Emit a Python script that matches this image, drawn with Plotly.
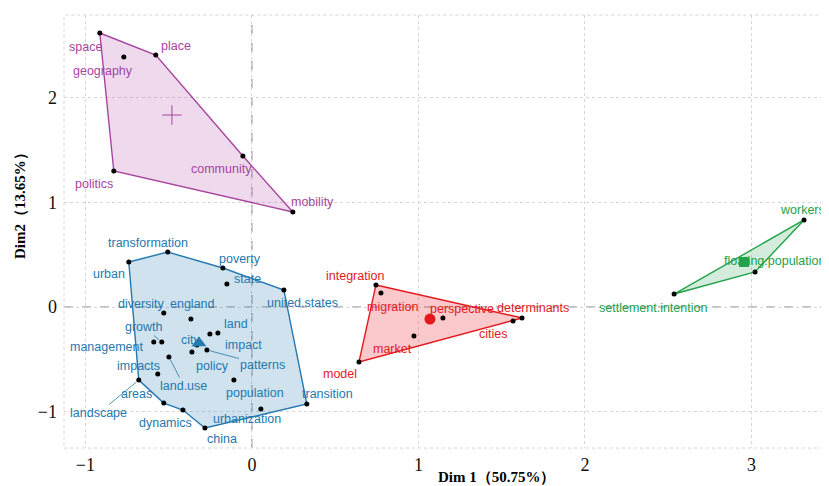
import plotly.graph_objects as go

# ---------------- data ----------------
purple_names = ["space", "geography", "place", "community", "politics", "mobility"]
purple_x = [-0.913, -0.769, -0.577, -0.054, -0.829, 0.246]
purple_y = [2.622, 2.392, 2.411, 1.445, 1.301, 0.909]
purple_hull = ["space", "place", "community", "mobility", "politics"]
purple_center = (-0.48, 1.837)

blue_names = ["urban", "transformation", "poverty", "state", "united.states", "diversity",
              "england", "land", "impact", "growth", "management", "city", "policy",
              "patterns", "land.use", "impacts", "landscape", "areas", "population",
              "dynamics", "china", "urbanization", "transition"]
blue_x = [-0.739, -0.505, -0.174, -0.150, 0.192, -0.529, -0.366, -0.204, -0.252, -0.541,
          -0.589, -0.330, -0.360, -0.270, -0.498, -0.565, -0.679, -0.529, -0.108, -0.414,
          -0.282, 0.054, 0.330]
blue_y = [0.431, 0.526, 0.373, 0.220, 0.163, -0.057, -0.115, -0.249, -0.258, -0.335,
          -0.335, -0.364, -0.431, -0.411, -0.478, -0.641, -0.699, -0.919, -0.699, -0.986,
          -1.158, -0.976, -0.928]
blue_hull = ["urban", "transformation", "poverty", "united.states", "transition", "china",
             "dynamics", "areas", "landscape"]
blue_center = (-0.318, -0.344)

red_names = ["integration", "migration", "perspective", "determinants", "cities", "market", "model"]
red_x = [0.745, 0.775, 1.147, 1.622, 1.568, 0.973, 0.643]
red_y = [0.211, 0.134, -0.105, -0.105, -0.134, -0.278, -0.526]
red_hull = ["integration", "determinants", "model"]
red_center = (1.069, -0.115)

green_names = ["settlement.intention", "floating.population", "workers"]
green_x = [2.535, 3.021, 3.315]
green_y = [0.124, 0.335, 0.833]
green_hull = ["settlement.intention", "workers", "floating.population"]
green_center = (2.955, 0.431)

x_ticks = [-1, 0, 1, 2, 3]
y_ticks = [-1, 0, 1, 2]
x_title = "Dim 1（50.75%）"
y_title = "Dim2（13.65%）"

# ---------------- label placement (pixel offsets, leader flag) ----------------
label_offsets = {
    "space": (-14, 14, False), "geography": (-21, 14, False), "place": (20, -9, False),
    "community": (-21, 13, False), "politics": (-20, 13, False), "mobility": (20, -10, False),
    "transformation": (-20, -9, False), "urban": (-20, 12, False), "poverty": (17, -9, False),
    "state": (21, -5, False), "united.states": (19, 13, False), "diversity": (-22, -9, False),
    "england": (2, -15, False), "land": (18, -9, False), "impact": (34, 11, False),
    "growth": (-18, -15, True), "management": (-47, 5, False), "city": (-6, -5, False),
    "policy": (21, 14, False), "patterns": (56, 15, True), "land.use": (15, 29, True),
    "impacts": (-19, -8, False), "landscape": (-40, 33, True), "areas": (-27, -9, False),
    "population": (21, 13, False), "dynamics": (-17, 13, False), "china": (17, 11, False),
    "urbanization": (-14, 10, False), "transition": (21, -10, False),
    "integration": (-21, -9, False), "migration": (12, 14, False), "perspective": (19, -9, False),
    "determinants": (11, -10, False), "cities": (-20, 13, False), "market": (-21, 13, False),
    "model": (-19, 12, False),
    "workers": (-2, -10, False), "floating.population": (20, -11, False),
    "settlement.intention": (-21, 14, False),
}

groups = [
    dict(names=purple_names, x=purple_x, y=purple_y, hull=purple_hull, center=purple_center,
         color="#A8449E", fill="rgba(168,68,158,0.20)", symbol="cross-thin-open", msize=14),
    dict(names=blue_names, x=blue_x, y=blue_y, hull=blue_hull, center=blue_center,
         color="#2479B0", fill="rgba(36,121,176,0.22)", symbol="triangle-up", msize=13),
    dict(names=red_names, x=red_x, y=red_y, hull=red_hull, center=red_center,
         color="#E4191E", fill="rgba(240,40,50,0.25)", symbol="circle", msize=11),
    dict(names=green_names, x=green_x, y=green_y, hull=green_hull, center=green_center,
         color="#22A24A", fill="rgba(34,162,74,0.20)", symbol="square", msize=10),
]

# page has an 8px body margin, so the figure is sized to end at the window edge
W, H = 821, 478
L, R, T, B = 56, 0, 7, 38
pw, ph = W - L - R, H - T - B

fig = go.Figure()
annotations = []

for g in groups:
    idx = {n: i for i, n in enumerate(g["names"])}
    hx = [g["x"][idx[n]] for n in g["hull"]] + [g["x"][idx[g["hull"][0]]]]
    hy = [g["y"][idx[n]] for n in g["hull"]] + [g["y"][idx[g["hull"][0]]]]
    fig.add_trace(go.Scatter(x=hx, y=hy, mode="lines", fill="toself",
                             fillcolor=g["fill"], line=dict(color=g["color"], width=1.4),
                             hoverinfo="skip", showlegend=False))

for g in groups:
    fig.add_trace(go.Scatter(x=g["x"], y=g["y"], mode="markers",
                             marker=dict(color="black", size=5), text=g["names"],
                             showlegend=False))
    cx, cy = g["center"]
    mk = dict(color=g["color"], size=g["msize"], symbol=g["symbol"])
    if g["symbol"].startswith("cross"):
        mk["line"] = dict(color=g["color"], width=1)
    fig.add_trace(go.Scatter(x=[cx], y=[cy], mode="markers", marker=mk, showlegend=False))
    for n, xv, yv in zip(g["names"], g["x"], g["y"]):
        ax, ay, leader = label_offsets[n]
        annotations.append(dict(
            x=xv, y=yv, xref="x", yref="y", text=n, showarrow=True,
            ax=ax, ay=ay, arrowhead=0, arrowwidth=0.8, standoff=3,
            arrowcolor=g["color"] if leader else "rgba(0,0,0,0)",
            font=dict(family="Liberation Sans, Arial", size=12.5, color=g["color"])))

title_font = dict(family="Liberation Serif, Times New Roman", size=15, color="black")
annotations.append(dict(x=(489 - L) / pw, y=(H - B - 469) / ph, xref="paper", yref="paper",
                        xanchor="center", yanchor="middle",
                        text="<b>" + x_title + "</b>", showarrow=False, font=title_font))
annotations.append(dict(x=(12 - L) / pw, y=(H - B - 194) / ph, xref="paper", yref="paper",
                        xanchor="center", yanchor="middle",
                        text="<b>" + y_title + "</b>", showarrow=False, textangle=-90,
                        font=title_font))
fig.update_layout(annotations=annotations)

fig.add_shape(type="line", xref="x", yref="paper", x0=0, x1=0, y0=0, y1=1,
              line=dict(color="#8a8a8a", width=1.1, dash="dash"), layer="below")
fig.add_shape(type="line", xref="paper", yref="y", x0=0, x1=1, y0=0, y1=0,
              line=dict(color="#8a8a8a", width=1.1, dash="dash"), layer="below")
fig.add_shape(type="rect", xref="paper", yref="paper", x0=0, x1=1.01, y0=0, y1=1,
              line=dict(color="#d4d4d4", width=1, dash="dot"), layer="below")

axis_font = dict(family="Liberation Serif, Times New Roman", size=18, color="#111")
fig.update_xaxes(range=[-1.128, 3.465], tickvals=x_ticks, showgrid=True, gridcolor="#d6d6d6",
                 griddash="dot", gridwidth=1, zeroline=False, showline=False, ticks="",
                 tickfont=axis_font, ticklabelstandoff=4, automargin=False)
fig.update_yaxes(range=[-1.349, 2.794], tickvals=y_ticks, showgrid=True, gridcolor="#d6d6d6",
                 griddash="dot", gridwidth=1, zeroline=False, showline=False, ticks="",
                 tickfont=axis_font, ticklabelstandoff=6, automargin=False)

fig.update_layout(width=W, height=H, margin=dict(l=L, r=R, t=T, b=B, autoexpand=False),
                  plot_bgcolor="white", paper_bgcolor="white", showlegend=False)

fig.write_html("out.html", config={"displayModeBar": False})
